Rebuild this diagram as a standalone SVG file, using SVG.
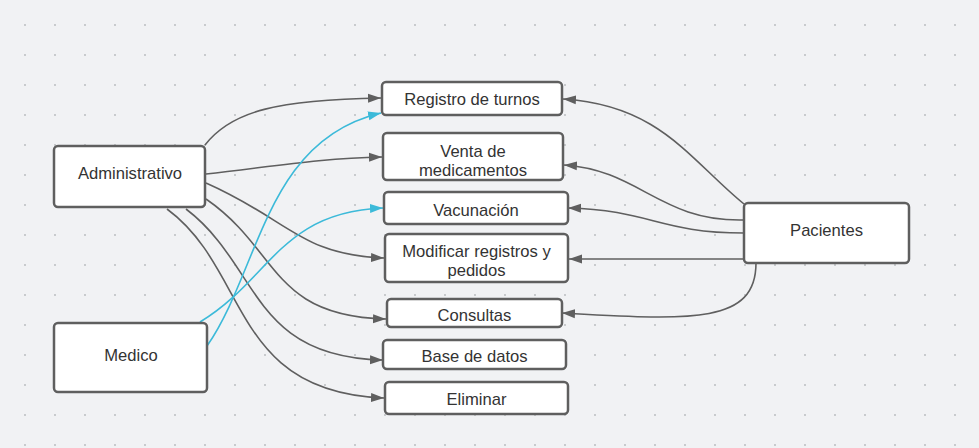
<svg xmlns="http://www.w3.org/2000/svg" width="979" height="448" viewBox="0 0 979 448">
<style>
.node rect{fill:#ffffff;stroke:#5f5f5f;stroke-width:2.5}
.node text{font-family:"Liberation Sans",Arial,sans-serif;font-size:16.6px;fill:#333333;text-anchor:middle}
.c{fill:none;stroke:#5f5f5f;stroke-width:1.6;marker-end:url(#ag)}
.cy{fill:none;stroke:#3cbad9;stroke-width:1.6;marker-end:url(#ac)}
</style>
<defs>
<pattern id="dots" x="10" y="10" width="30" height="30" patternUnits="userSpaceOnUse">
<circle cx="15" cy="15" r="0.9" fill="#b5b7bb"/>
</pattern>
<marker id="ag" markerUnits="userSpaceOnUse" markerWidth="14" markerHeight="10" refX="13" refY="5" orient="auto">
<path d="M0,0.5 L13,5 L0,9.5 z" fill="#5f5f5f"/>
</marker>
<marker id="ac" markerUnits="userSpaceOnUse" markerWidth="14" markerHeight="10" refX="13" refY="5" orient="auto">
<path d="M0,0.5 L13,5 L0,9.5 z" fill="#3cbad9"/>
</marker>
</defs>
<rect width="979" height="448" fill="#f1f2f4"/>
<rect width="979" height="448" fill="url(#dots)"/>
<g id="connectors">
<path class="c" d="M205,145 C232,110 280,100 381,98"/>
<path class="c" d="M206,174 C270,167 320,158 382,157"/>
<path class="c" d="M206,183 C290,220 300,255 384,258"/>
<path class="c" d="M206,199 C280,250 270,316 386,319"/>
<path class="c" d="M186,209 C260,265 250,357 383,360"/>
<path class="c" d="M167,209 C250,270 230,392 384,398"/>
<path class="cy" d="M207,346 C260,270 265,140 381,113"/>
<path class="cy" d="M200,322 C270,280 280,212 383,208"/>
<path class="c" d="M744,204 C690,160 660,105 563,99"/>
<path class="c" d="M744,220 C660,222 640,170 564,165"/>
<path class="c" d="M744,233 C660,233 650,210 568,208"/>
<path class="c" d="M744,259 L569,259"/>
<path class="c" d="M756,263 C756,325 690,320 562,313"/>
</g>
<g id="administrativo" class="node"><rect x="54" y="146" width="151" height="61" rx="4"/><text x="130" y="179">Administrativo</text></g>
<g id="medico" class="node"><rect x="54" y="323" width="153" height="69" rx="4"/><text x="131" y="361">Medico</text></g>
<g id="registro" class="node"><rect x="382" y="82" width="180" height="33" rx="4"/><text x="472" y="105">Registro de turnos</text></g>
<g id="venta" class="node"><rect x="383" y="133" width="180" height="47" rx="4"/><text x="473" y="157">Venta de</text><text x="473" y="175.5">medicamentos</text></g>
<g id="vacunacion" class="node"><rect x="384" y="192" width="184" height="32" rx="4"/><text x="476" y="215.5">Vacunación</text></g>
<g id="modificar" class="node"><rect x="385" y="234" width="183" height="48" rx="4"/><text x="476.5" y="257">Modificar registros y</text><text x="476.5" y="275.5">pedidos</text></g>
<g id="consultas" class="node"><rect x="387" y="299" width="175" height="28" rx="4"/><text x="474.5" y="320.5">Consultas</text></g>
<g id="base" class="node"><rect x="383" y="340" width="183" height="29" rx="4"/><text x="474.5" y="361.5">Base de datos</text></g>
<g id="eliminar" class="node"><rect x="385" y="382" width="183" height="32" rx="4"/><text x="476.5" y="405">Eliminar</text></g>
<g id="pacientes" class="node"><rect x="744" y="203" width="165" height="60" rx="4"/><text x="826.5" y="236">Pacientes</text></g>
</svg>
